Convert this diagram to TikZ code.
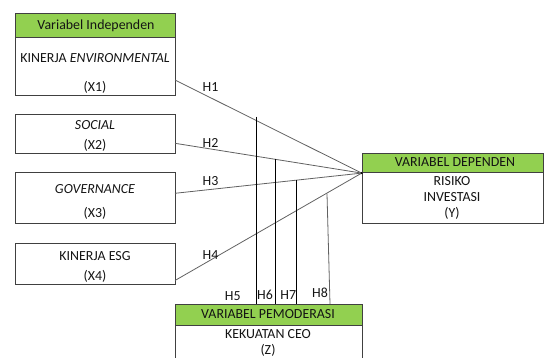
\documentclass[tikz,border=0pt]{standalone}
\usepackage{fontspec}
\setmainfont{Carlito}
\begin{document}
\begin{tikzpicture}[x=1pt,y=-1pt,
  box/.style={draw=black!75,line width=0.8pt,rectangle,inner sep=0pt,anchor=north west},
  hdr/.style={box,fill=hgreen},
  txt/.style={font=\fontsize{13.9}{16}\selectfont,text=black!92,inner sep=0pt},
  link/.style={draw=black!62,line width=0.8pt},
  mod/.style={draw=black,line width=0.75pt},
  lbl/.style={txt}]
\definecolor{hgreen}{HTML}{92D050}
\useasboundingbox (0,0) rectangle (544,358);
\begin{scope}
\clip (0,0) rectangle (544,358);
% X1
\node[box,minimum width=160pt,minimum height=82.5pt] (x1) at (15,13) {};
\node[hdr,minimum width=160pt,minimum height=24.5pt] (x1h) at (15,13) {};
\node[txt] (x1t) at (96,25.5) {Variabel Independen};
\node[txt] (x1a) at (95,58.3) {KINERJA \textit{ENVIRONMENTAL}};
\node[txt] (x1b) at (95,87.5) {(X1)};
% X2
\node[box,minimum width=160pt,minimum height=39pt] (x2) at (15,114.3) {};
\node[txt] (x2a) at (95,125) {\textit{SOCIAL}};
\node[txt] (x2b) at (95,145) {(X2)};
% X3
\node[box,minimum width=160pt,minimum height=51pt] (x3) at (15,172.3) {};
\node[txt] (x3a) at (95,189) {\textit{GOVERNANCE}};
\node[txt] (x3b) at (95,213.3) {(X3)};
% X4
\node[box,minimum width=160pt,minimum height=41.6pt] (x4) at (15,242.7) {};
\node[txt] (x4a) at (95,255.7) {KINERJA ESG};
\node[txt] (x4b) at (95,276.7) {(X4)};
% Y
\node[box,minimum width=181pt,minimum height=70pt] (y) at (361.7,152.7) {};
\node[hdr,minimum width=181pt,minimum height=19.6pt] (yh) at (361.7,152.7) {};
\node[txt] (yt) at (455,161.7) {VARIABEL DEPENDEN};
\node[txt] (ya) at (452,180.7) {RISIKO};
\node[txt] (yb) at (452,196.7) {INVESTASI};
\node[txt] (yc) at (452,213.3) {(Y)};
% Z
\node[box,minimum width=187pt,minimum height=80pt] (z) at (174.7,304) {};
\node[hdr,minimum width=187pt,minimum height=21pt] (zh) at (174.7,304) {};
\node[txt] (zt) at (268,314.3) {VARIABEL PEMODERASI};
\node[txt] (za) at (268,334.5) {KEKUATAN CEO};
\node[txt] (zb) at (268,350) {(Z)};
\end{scope}
% connector points
\coordinate (a1) at (175,80);
\coordinate (a2) at (175,143.3);
\coordinate (a3) at (175,193.3);
\coordinate (a4) at (175,280.5);
\coordinate (t) at (yh.south west);
\draw[link] (a1) -- (t);
\draw[link] (a2) -- (t);
\draw[link] (a3) -- (t);
\draw[link] (a4) -- (t);
\fill (t) circle (1.1pt);
% moderation lines
\coordinate (v1) at (256,116.7);
\coordinate (v2) at (275,159.3);
\coordinate (v3) at (296.7,180.5);
\coordinate (v4) at (327,193.7);
\coordinate (w1) at (256,304);
\coordinate (w2) at (275,304);
\coordinate (w3) at (296.7,304);
\coordinate (w4) at (330,304);
\draw[mod] (v1) -- (w1);
\draw[mod] (v2) -- (w2);
\draw[mod] (v3) -- (w3);
\draw[link] (v4) -- (w4);
% labels
\node[lbl] (h1) at (210.5,87) {H1};
\node[lbl] (h2) at (210.5,143) {H2};
\node[lbl] (h3) at (210.5,181) {H3};
\node[lbl] (h4) at (210.5,255) {H4};
\node[lbl] (h5) at (232.7,296) {H5};
\node[lbl] (h6) at (265,295) {H6};
\node[lbl] (h7) at (288.3,295) {H7};
\node[lbl] (h8) at (320,293.3) {H8};
\end{tikzpicture}
\end{document}
